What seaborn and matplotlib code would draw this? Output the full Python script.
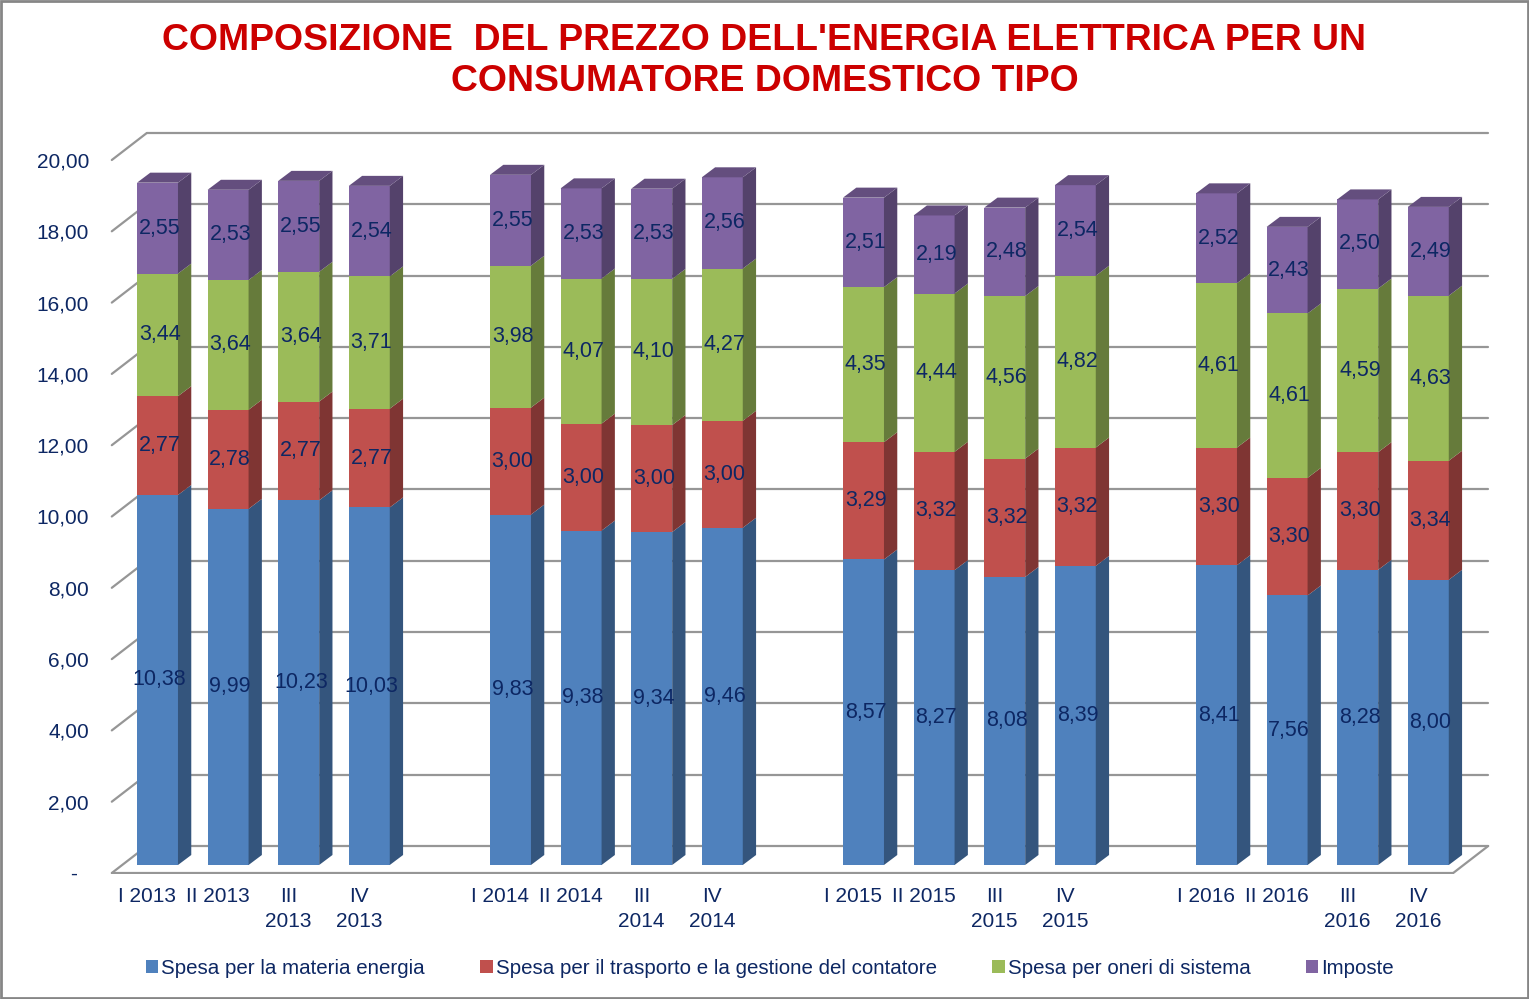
import numpy as np
import pandas as pd
import matplotlib
matplotlib.use("Agg")
import matplotlib.pyplot as plt
import matplotlib.colors as mcolors
from matplotlib.patches import Polygon, Rectangle, Patch
import seaborn as sns

# ---------------- data ----------------
periodi = ["I 2013", "II 2013", "III\n2013", "IV\n2013",
           "I 2014", "II 2014", "III\n2014", "IV\n2014",
           "I 2015", "II 2015", "III\n2015", "IV\n2015",
           "I 2016", "II 2016", "III\n2016", "IV\n2016"]
energia = [10.38, 9.99, 10.23, 10.03, 9.83, 9.38, 9.34, 9.46,
           8.57, 8.27, 8.08, 8.39, 8.41, 7.56, 8.28, 8.00]
trasporto = [2.77, 2.78, 2.77, 2.77, 3.00, 3.00, 3.00, 3.00,
             3.29, 3.32, 3.32, 3.32, 3.30, 3.30, 3.30, 3.34]
oneri = [3.44, 3.64, 3.64, 3.71, 3.98, 4.07, 4.10, 4.27,
         4.35, 4.44, 4.56, 4.82, 4.61, 4.61, 4.59, 4.63]
imposte = [2.55, 2.53, 2.55, 2.54, 2.55, 2.53, 2.53, 2.56,
           2.51, 2.19, 2.48, 2.54, 2.52, 2.43, 2.50, 2.49]
serie = ["Spesa per la materia energia",
         "Spesa per il trasporto e la gestione del contatore",
         "Spesa per oneri di sistema",
         "Imposte"]
colori = ["#4F81BD", "#C0504D", "#9BBB59", "#8064A2"]
y_ticks = [0, 2, 4, 6, 8, 10, 12, 14, 16, 18, 20]
titolo = "COMPOSIZIONE  DEL PREZZO DELL'ENERGIA ELETTRICA PER UN\nCONSUMATORE DOMESTICO TIPO"

# ---------------- style ----------------
sns.set_theme(style="white")
plt.rcParams['font.family'] = ['Liberation Sans', 'DejaVu Sans']
NAVY = "#0D2763"
GRID = "#969696"

W, H = 1529, 999
fig = plt.figure(figsize=(W / 100, H / 100), dpi=100)
ax_l, ax_r, ax_t, ax_b = 100, 1500, 100, 873.5
ax = fig.add_axes([ax_l / W, 1 - ax_b / H, (ax_r - ax_l) / W, (ax_b - ax_t) / H])
x0_px, cat_px = 157.5, 70.6
y0_px, unit_px = 865.0, 35.65

# category order with blank gaps between years
order = []
for g in range(4):
    order += periodi[4 * g:4 * g + 4]
    if g < 3:
        order.append(" " * (g + 1))
pos = np.array([order.index(p) for p in periodi])

layers = np.vstack([energia, trasporto, oneri, imposte])
cum = np.cumsum(layers, axis=0)
df = pd.DataFrame({"periodo": periodi})
for k in range(4):
    df[f"c{k}"] = cum[k]

bw = 0.58
for k in reversed(range(4)):
    sns.barplot(data=df, x="periodo", y=f"c{k}", order=order, color=colori[k],
                width=bw, saturation=1, errorbar=None, linewidth=0, ax=ax, zorder=3)

# 3D offsets (data units)
bdx, bdy = 13.3 / cat_px, 10.0 / unit_px    # bar depth
fdx, fdy = -10.4 / cat_px, -8.0 / unit_px   # front plane
wdx, wdy = 24.6 / cat_px, 19.0 / unit_px    # back wall

def shade(c, f):
    r, g, b = mcolors.to_rgb(c)
    return (r * f, g * f, b * f)

# walls and gridlines
xl_w, xr_w = -0.5, len(order) - 0.5
for v in y_ticks:
    ax.plot([xl_w + fdx, xl_w + wdx], [v + fdy, v + wdy], color=GRID, lw=1.6, zorder=1)
    ax.plot([xl_w + wdx, xr_w + wdx], [v + wdy, v + wdy], color=GRID, lw=1.6, zorder=1)
ax.plot([xl_w + fdx, xr_w + fdx], [fdy, fdy], color=GRID, lw=1.6, zorder=1)
ax.plot([xr_w + fdx, xr_w + wdx], [fdy, wdy], color=GRID, lw=1.6, zorder=1)

# side and top faces
for j, i in enumerate(pos):
    xl, xr = i - bw / 2, i + bw / 2
    lows = np.concatenate([[0], cum[:-1, j]])
    for k in range(4):
        lo, hi = lows[k], cum[k, j]
        ax.add_patch(Polygon([(xr, lo), (xr + bdx, lo + bdy), (xr + bdx, hi + bdy), (xr, hi)],
                             closed=True, facecolor=shade(colori[k], 0.66), edgecolor="none", zorder=3))
    top = cum[-1, j]
    ax.add_patch(Polygon([(xl, top), (xl + bdx, top + bdy), (xr + bdx, top + bdy), (xr, top)],
                         closed=True, facecolor=shade(colori[3], 0.78), edgecolor="none", zorder=3))
    # data labels
    for k in range(4):
        mid = lows[k] + layers[k, j] / 2
        ax.text(i + 0.03, mid, f"{layers[k, j]:.2f}".replace(".", ","), ha="center", va="center",
                color=NAVY, fontsize=15.5, zorder=5)

ax.set_xlim((ax_l - x0_px) / cat_px, (ax_r - x0_px) / cat_px)
ax.set_ylim((y0_px - ax_b) / unit_px, (y0_px - ax_t) / unit_px)
ax.set_xticks(pos + fdx, periodi)
ax.set_yticks(np.array(y_ticks) + fdy,
              ["-  " if v == 0 else f"{v:.2f}".replace(".", ",") for v in y_ticks])
ax.tick_params(axis="both", length=0, labelsize=15, labelcolor=NAVY)
ax.tick_params(axis="y", pad=8.0)
ax.tick_params(axis="x", pad=10)
for lab in ax.get_xticklabels():
    lab.set_linespacing(1.35)
ax.set_xlabel("")
ax.set_ylabel("")
for s in ax.spines.values():
    s.set_visible(False)
ax.set_facecolor("white")

# title
fig.text(0.5, 1 - 61 / H, titolo, ha="center", va="center", fontsize=26.9, fontweight="bold",
         color="#CC0000", linespacing=1.22)

# legend
handles = [Patch(facecolor=c, edgecolor="none") for c in colori]
fig.legend(handles, serie, loc="center", bbox_to_anchor=(770 / W, 1 - 968 / H), ncol=4,
           frameon=False, fontsize=14.8, handlelength=0.6, handleheight=0.6, handletextpad=0.15,
           columnspacing=2.7, labelcolor=NAVY)

# border
fig.patches.append(Rectangle((0.0006, 0.001), 0.9988, 0.998, transform=fig.transFigure,
                             fill=False, edgecolor="#868686", lw=2))

fig.savefig("out.png", dpi=100)
